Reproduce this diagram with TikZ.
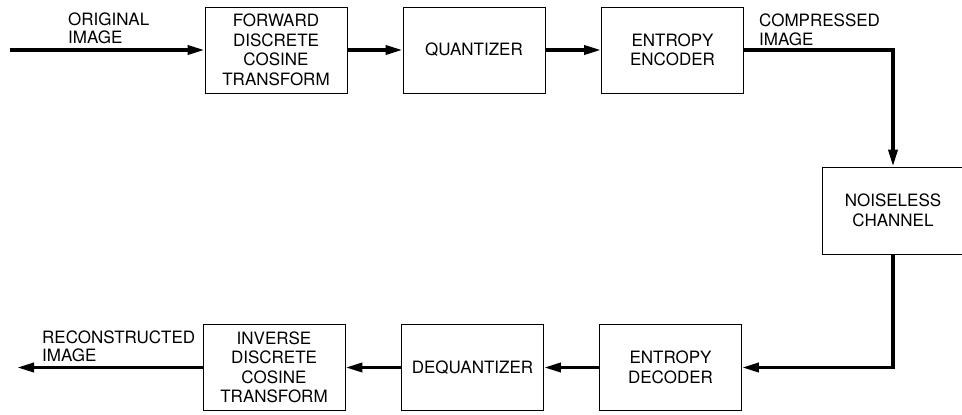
\documentclass[tikz,border=0pt]{standalone}
\usepackage{fontspec}
\setmainfont{TeX Gyre Heros}
\usetikzlibrary{arrows.meta}
\begin{document}
\begin{tikzpicture}[x=1pt,y=-1pt,
  blockbox/.style={draw=black,line width=0.8pt,minimum width=142pt,minimum height=86pt,
    align=center,inner sep=0pt,font=\fontsize{17}{19.5}\selectfont},
  flow/.style={line width=3.5pt,-{Triangle[length=17pt,width=9pt]}},
  lbl/.style={anchor=north west,align=left,inner sep=0pt,font=\fontsize{17}{18.5}\selectfont}]
\useasboundingbox (0,0) rectangle (962,415);
\node[blockbox] (fdct) at (276,50) {FORWARD\\DISCRETE\\COSINE\\TRANSFORM};
\node[blockbox] (quant) at (474,50) {QUANTIZER};
\node[blockbox] (enc) at (672.5,50) {ENTROPY\\ENCODER};
\node[blockbox,minimum height=87pt] (chan) at (893,210.5) {NOISELESS\\CHANNEL};
\node[blockbox] (dec) at (670.5,367.5) {ENTROPY\\DECODER};
\node[blockbox] (deq) at (472.5,367.5) {DEQUANTIZER};
\node[blockbox] (idct) at (274,367.5) {INVERSE\\DISCRETE\\COSINE\\TRANSFORM};
\coordinate (in) at (10,50);
\coordinate (out) at (17,367.5);
\node[lbl] (lorig) at (68,12.5) {ORIGINAL\\IMAGE};
\node[lbl] (lcomp) at (759,14) {COMPRESSED\\IMAGE};
\node[lbl] (lrec) at (42,330.5) {RECONSTRUCTED\\IMAGE};
\draw[flow] (in) -- (fdct);
\draw[flow] (fdct) -- (quant);
\draw[flow] (quant) -- (enc);
\draw[flow] (enc.east) -| (chan.north);
\draw[flow] (chan.south) |- (dec.east);
\draw[flow] (dec) -- (deq);
\draw[flow] (deq) -- (idct);
\draw[flow] (idct) -- (out);
\end{tikzpicture}
\end{document}
